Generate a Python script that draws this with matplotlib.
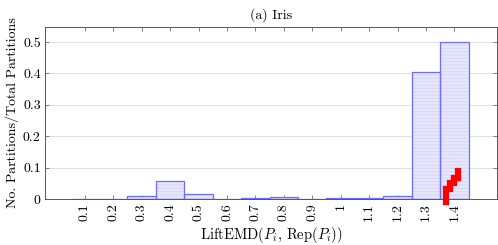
import matplotlib
matplotlib.use("Agg")
import matplotlib.pyplot as plt
import numpy as np

plt.rcParams['font.family'] = 'serif'
plt.rcParams['font.serif'] = ['cmr10', 'DejaVu Serif']
plt.rcParams['mathtext.fontset'] = 'cm'
plt.rcParams['axes.formatter.use_mathtext'] = True
plt.rcParams['hatch.linewidth'] = 0.6

bins = [0.1, 0.2, 0.3, 0.4, 0.5, 0.6, 0.7, 0.8, 0.9, 1.0, 1.1, 1.2, 1.3, 1.4]
tick_labels = ["0.1", "0.2", "0.3", "0.4", "0.5", "0.6", "0.7", "0.8", "0.9",
               "1", "1.1", "1.2", "1.3", "1.4"]
fractions = [0.0, 0.0, 0.008, 0.057, 0.015, 0.0, 0.002, 0.005, 0.0,
             0.002, 0.002, 0.009, 0.406, 0.499]
y_ticks = [0, 0.1, 0.2, 0.3, 0.4, 0.5]
y_tick_labels = ["0", "0.1", "0.2", "0.3", "0.4", "0.5"]

# red annotation stroke (stair-stepped)
mark_x = [1.372, 1.372, 1.386, 1.386, 1.400, 1.400, 1.414, 1.414]
mark_y = [-0.009, 0.033, 0.033, 0.050, 0.050, 0.068, 0.068, 0.090]

fig = plt.figure(figsize=(4.98, 2.45), dpi=100)
ax = fig.add_axes([0.0904, 0.1878, 0.9076, 0.702])

ax.grid(axis='y', color='#dcdcdc', linewidth=0.6, zorder=0)
ax.set_axisbelow(True)

ax.bar(bins, fractions, width=0.1, color='#e6e6ff', edgecolor='none', zorder=2)
ax.bar(bins, fractions, width=0.1, color='none', edgecolor='#d4d4fa',
       hatch='-----', linewidth=0, zorder=2.5)
ax.bar(bins, fractions, width=0.1, color='none', edgecolor='#6b6bff',
       linewidth=0.9, zorder=3)

ax.plot(mark_x, mark_y, color='#ff0000', linewidth=4.5, solid_capstyle='projecting',
        solid_joinstyle='miter', zorder=5, clip_on=False)

ax.set_xlim(-0.04, 1.55)
ax.set_ylim(0, 0.548)
ax.set_xticks(bins)
ax.set_xticklabels(tick_labels, rotation=90, fontsize=10)
ax.set_yticks(y_ticks)
ax.set_yticklabels(y_tick_labels, fontsize=10)
ax.tick_params(axis='both', direction='in', length=3, width=0.5,
               color='#555555', top=True, right=True, pad=3)

for s in ax.spines.values():
    s.set_color('#555555')
    s.set_linewidth(0.7)

ax.set_xlabel(r'LiftEMD($P_i$, Rep($P_i$))', fontsize=10.5, labelpad=3)
ax.set_ylabel('No. Partitions/Total Partitions', fontsize=10, labelpad=3)
ax.set_title('(a) Iris', fontsize=10, pad=6)

fig.savefig('out.png', dpi=100)
